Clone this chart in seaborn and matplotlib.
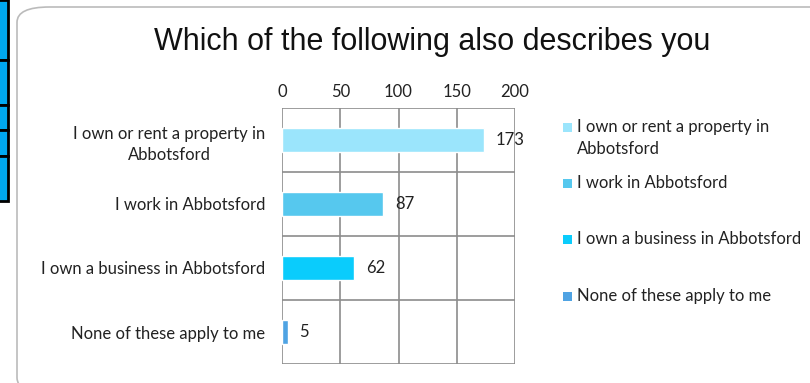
import matplotlib
matplotlib.use("Agg")
import matplotlib.pyplot as plt
import seaborn as sns
import pandas as pd
from matplotlib.patches import FancyBboxPatch, Rectangle

categories = ["I own or rent a property in\nAbbotsford", "I work in Abbotsford",
              "I own a business in Abbotsford", "None of these apply to me"]
legend_labels = ["I own or rent a property in\nAbbotsford", "I work in Abbotsford",
                 "I own a business in Abbotsford", "None of these apply to me"]
values = [173, 87, 62, 5]
colors = ["#9BE5FC", "#56C8EE", "#0ACCFC", "#4FA3E3"]
xticks = [0, 50, 100, 150, 200]
title = "Which of the following also describes you"

sns.set_theme(style="white")
plt.rcParams['font.family'] = ['Lato', 'DejaVu Sans']

FS = 12
W, H = 810, 383
fig = plt.figure(figsize=(W / 100, H / 100), dpi=100)

# outer rounded frame
frame = FancyBboxPatch((17 / W, -10 / H), 830 / W, (H - 7 + 10) / H,
                       boxstyle="round,pad=0,rounding_size=0.04",
                       transform=fig.transFigure, fc="white", ec="#BBBBBB", lw=1.2,
                       zorder=-5)
fig.patches.append(frame)

# left edge blue cells (fragment)
edges = [0, 60, 105, 130, 156, 201]
for a, b in zip(edges[:-1], edges[1:]):
    fig.patches.append(Rectangle((-5 / W, 1 - b / H), 13 / W, (b - a) / H,
                                 transform=fig.transFigure, fc="#00A8F0",
                                 ec="black", lw=2, zorder=-4))

ax = fig.add_axes([282 / W, 1 - 364 / H, (515 - 282) / W, (364 - 108) / H])
ax.patch.set_alpha(0)
df = pd.DataFrame({"cat": categories, "val": values})
sns.barplot(data=df, y="cat", x="val", hue="cat", palette=colors, dodge=False,
            width=0.38, legend=False, ax=ax, orient="h", saturation=1)

ax.set_xlim(0, 200)
ax.set_ylim(3.5, -0.5)
ax.xaxis.tick_top()
ax.set_xticks(xticks)
ax.set_xticklabels([str(t) for t in xticks])
ax.tick_params(axis='x', length=0, pad=6, labelsize=FS, colors='#222222')
ax.tick_params(axis='y', length=0, pad=12, labelsize=FS, colors='#222222')
for lbl in ax.get_yticklabels():
    lbl.set_multialignment('center')
    lbl.set_linespacing(1.45)
ax.set_xlabel("")
ax.set_ylabel("")
for x in xticks:
    ax.axvline(x, color="#8C8C8C", lw=1.2, zorder=0)
for y in [-0.5, 0.5, 1.5, 2.5, 3.5]:
    ax.axhline(y, color="#8C8C8C", lw=1.2, zorder=0)
for s in ax.spines.values():
    s.set_visible(False)

for i, v in enumerate(values):
    ax.text(v + 10, i, str(v), va="center", ha="left", fontsize=FS, color="#222222")

fig.text(432 / W, 1 - 42 / H, title, ha="center", va="center", fontsize=22,
         family=["Liberation Sans", "DejaVu Sans"], color="#111111")

leg_y = [128, 184, 240, 297]
for lab, c, y in zip(legend_labels, colors, leg_y):
    fig.patches.append(Rectangle((563 / W, 1 - (y + 4) / H), 9 / W, 9 / H,
                                 transform=fig.transFigure, fc=c, ec="none"))
    fig.text(577 / W, 1 - (y - 9) / H, lab, ha="left", va="top", fontsize=FS,
             color="#222222", linespacing=1.45)

fig.savefig("out.png", dpi=100)
